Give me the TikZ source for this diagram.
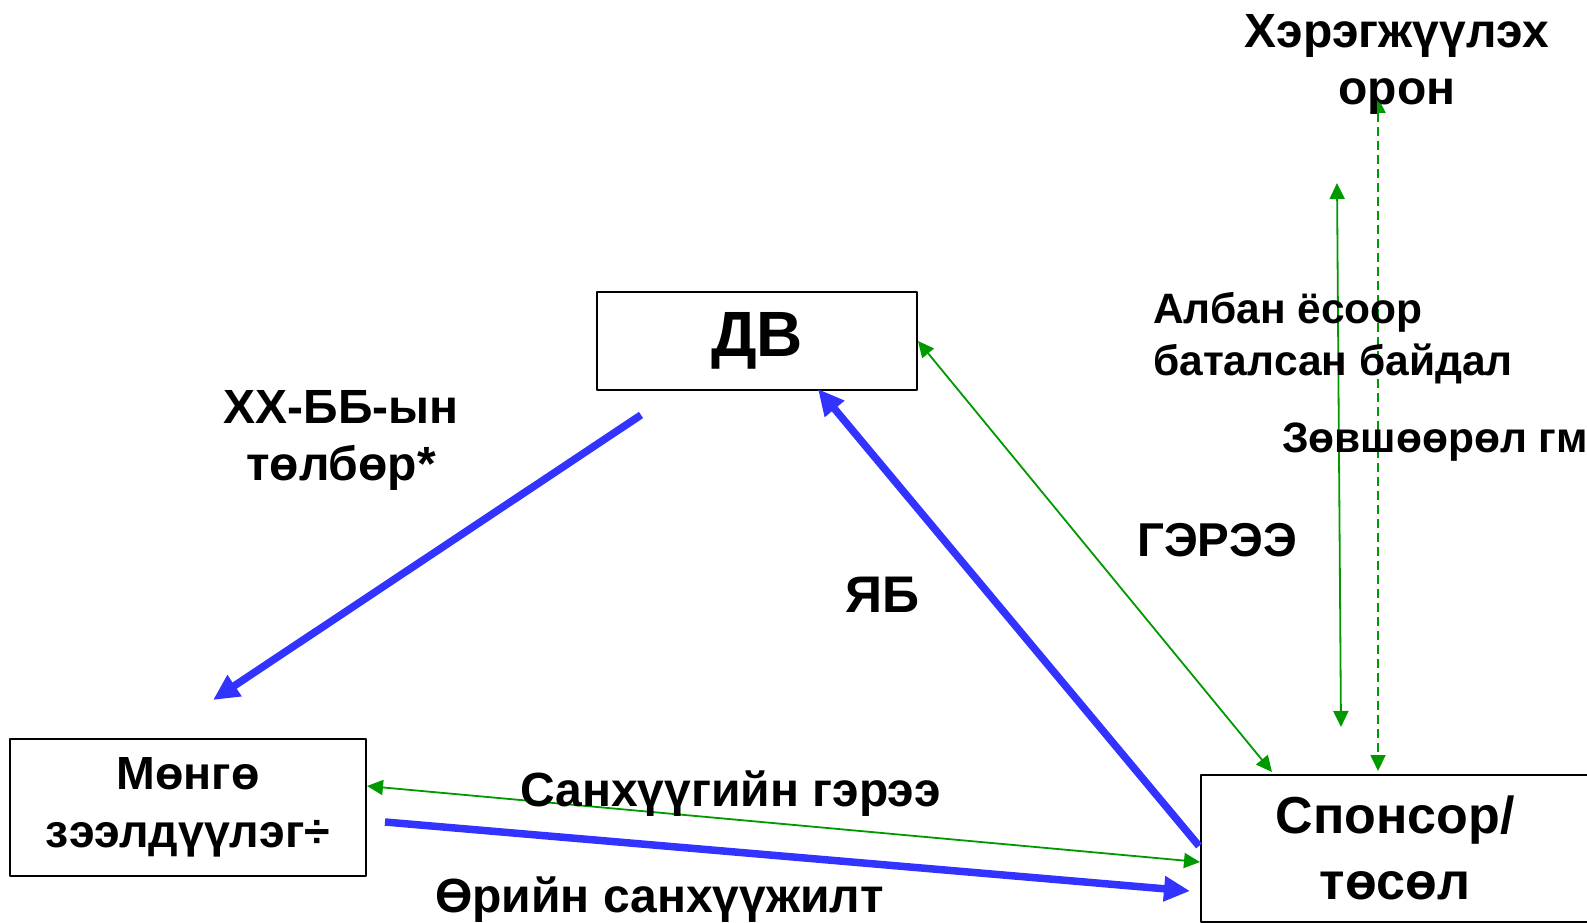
\documentclass[tikz,border=0pt]{standalone}
\usepackage{fontspec}
\setmainfont{Liberation Sans}
\usetikzlibrary{arrows.meta}
\definecolor{flowblue}{RGB}{51,51,255}
\definecolor{linkgreen}{RGB}{0,153,0}
\newcommand{\fsz}[2]{\fontsize{#1}{#2}\selectfont\bfseries}
\tikzset{
  box/.style={draw=black, line width=2pt, fill=white, align=center, inner sep=0pt},
  lbl/.style={inner sep=0pt, anchor=base west},
  flow/.style={draw=flowblue, line width=7.5pt, -{Triangle[length=26pt,width=24pt]}},
  link/.style={draw=linkgreen, line width=1.8pt, {Triangle[length=16pt,width=15pt]}-{Triangle[length=16pt,width=15pt]}},
}

\begin{document}
\begin{tikzpicture}[line join=round,x=1pt,y=-1pt]
\useasboundingbox (0,0) rectangle (1587,923);
% boxes
\node[box, minimum width=320pt, minimum height=98pt, font=\fsz{64}{66}] (dv) at (757,341) {ДВ};
\node[box, minimum width=356pt, minimum height=137pt, font=\fsz{46.5}{58}] (lender) at (188,807.5) {Мөнгө\\зээлдүүлэг÷};
\node[box, minimum width=388pt, minimum height=147pt, font=\fsz{52}{66}] (sponsor) at (1395,848) {Спонсор/\\төсөл};
% arrow ends
\coordinate (paytop) at (641,415);
\coordinate (paybot) at (213,700);
\coordinate (ebstart) at (1199,846);
\coordinate (ebend) at (818,389);
\coordinate (debtstart) at (385,822);
\coordinate (debtend) at (1190,891);
\coordinate (contrsp) at (1272,772);
\coordinate (fincl) at (367,786);
\coordinate (fincsp) at (1200,862);
\coordinate (apptop) at (1337,183);
\coordinate (appbot) at (1341,727);
\coordinate (hosttop) at (1378,97);
\coordinate (hostbot) at (1378,771);
% arrows
\draw[flow] (paytop) -- (paybot);
\draw[flow] (ebstart) -- (ebend);
\draw[flow] (debtstart) -- (debtend);
\draw[link] (dv.east) -- (contrsp);
\draw[link] (fincl) -- (fincsp);
\draw[link] (apptop) -- (appbot);
\draw[link, dash pattern=on 9pt off 5pt] (hosttop) -- (hostbot);
% labels (base = last line)
\node[lbl, anchor=base, align=center, font=\fsz{48}{57}] (host) at (1397,105) {Хэрэгжүүлэх\\орон};
\node[lbl, align=left, font=\fsz{42.5}{52}] (official) at (1153,375) {Албан ёсоор\\баталсан байдал};
\node[lbl, font=\fsz{42.5}{52}] (permit) at (1282,452) {Зөвшөөрөл гм};
\node[lbl, anchor=base, align=center, font=\fsz{48}{57}] (paylbl) at (341,480) {ХХ-ББ-ын\\төлбөр*};
\node[lbl, font=\fsz{47.5}{57}] (contrlbl) at (1137,556) {ГЭРЭЭ};
\node[lbl, font=\fsz{51.5}{57}] (eblbl) at (845,612) {ЯБ};
\node[lbl, font=\fsz{48}{57}] (finclbl) at (520,806) {Санхүүгийн гэрээ};
\node[lbl, font=\fsz{48}{57}] (debtlbl) at (435,912) {Өрийн санхүүжилт};
\end{tikzpicture}
\end{document}
